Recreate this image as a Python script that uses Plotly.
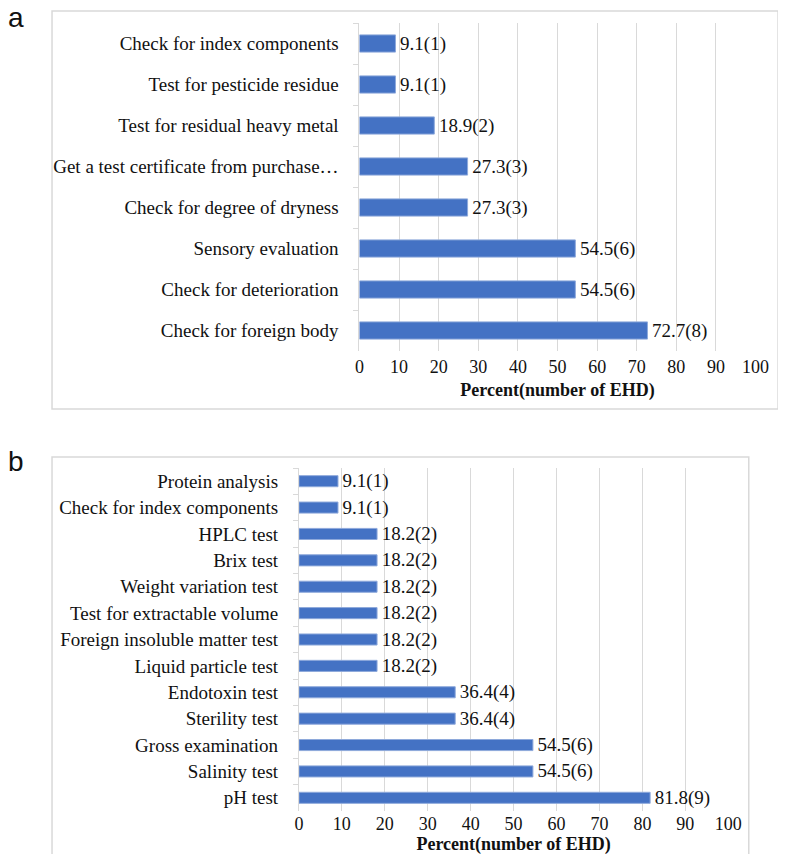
import plotly.graph_objects as go

W, H = 786, 854

# Panel a data (top to bottom)
cats_a = ["Check for index components", "Test for pesticide residue",
          "Test for residual heavy metal", "Get a test certificate from purchase…",
          "Check for degree of dryness", "Sensory evaluation",
          "Check for deterioration", "Check for foreign body"]
pct_a = [9.1, 9.1, 18.9, 27.3, 27.3, 54.5, 54.5, 72.7]
num_a = [1, 1, 2, 3, 3, 6, 6, 8]

# Panel b data (top to bottom)
cats_b = ["Protein analysis", "Check for index components", "HPLC test", "Brix test",
          "Weight variation test", "Test for extractable volume",
          "Foreign insoluble matter test", "Liquid particle test", "Endotoxin test",
          "Sterility test", "Gross examination", "Salinity test", "pH test"]
pct_b = [9.1, 9.1, 18.2, 18.2, 18.2, 18.2, 18.2, 18.2, 36.4, 36.4, 54.5, 54.5, 81.8]
num_b = [1, 1, 2, 2, 2, 2, 2, 2, 4, 4, 6, 6, 9]

x_ticks = [0, 10, 20, 30, 40, 50, 60, 70, 80, 90, 100]
x_title = "Percent(number of EHD)"

BAR = "#4472C4"
GRID = "#D9D9D9"
FONT = "Liberation Serif"

def px(x):
    return x / W

def py(y):
    return 1 - y / H

fig = go.Figure()
for cats, pct, num, xa, ya in [(cats_a, pct_a, num_a, "x", "y"),
                               (cats_b, pct_b, num_b, "x2", "y2")]:
    fig.add_trace(go.Bar(
        y=cats, x=pct, orientation="h", xaxis=xa, yaxis=ya,
        marker=dict(color=BAR, line=dict(color="#8EA9DB", width=1)),
        width=0.42,
        text=[f"\u200a{p}({n})" for p, n in zip(pct, num)],
        textposition="outside", cliponaxis=False, constraintext="none",
        textfont=dict(family=FONT, size=19, color="#111"),
    ))

def xax(domain, anchor, standoff, tstandoff):
    return dict(domain=domain, anchor=anchor, range=[0, 100], tickvals=x_ticks,
                showgrid=True, gridcolor=GRID, gridwidth=1, zeroline=False,
                showline=False, ticks="", ticklabelstandoff=standoff,
                tickfont=dict(family=FONT, size=18, color="#111"),
                title=dict(text=f"<b>{x_title}</b>", standoff=tstandoff,
                           font=dict(family=FONT, size=18, color="#111")),
                fixedrange=True)

def yax(domain, anchor):
    return dict(domain=domain, anchor=anchor, type="category", autorange="reversed",
                showline=True, linecolor=GRID, linewidth=1, showgrid=False,
                ticks="outside", tickson="boundaries", ticklen=5, tickcolor=GRID,
                ticklabelstandoff=16,
                tickfont=dict(family=FONT, size=19, color="#111"))

fig.update_layout(
    width=W, height=H, margin=dict(l=0, r=0, t=0, b=0),
    paper_bgcolor="white", plot_bgcolor="white", showlegend=False,
    xaxis=xax([px(355), px(761)], "y", 3, 7),
    yaxis=yax([py(343), py(15)], "x"),
    xaxis2=xax([px(293), px(733)], "y2", 0, 2),
    yaxis2=yax([py(803), py(460)], "x2"),
    shapes=[
        dict(type="rect", xref="paper", yref="paper", x0=px(40), x1=px(784),
             y0=py(401), y1=py(3), line=dict(color=GRID, width=1.5)),
        dict(type="rect", xref="paper", yref="paper", x0=px(40), x1=px(754),
             y0=py(851), y1=py(449), line=dict(color=GRID, width=1.5)),
    ],
    annotations=[
        dict(text="a", xref="paper", yref="paper", x=0, y=py(0), xanchor="left",
             yanchor="top", showarrow=False, xshift=-7, yshift=8,
             font=dict(family="Liberation Sans", size=28, color="#111")),
        dict(text="b", xref="paper", yref="paper", x=0, y=py(446), xanchor="left",
             yanchor="top", showarrow=False, xshift=-7, yshift=10,
             font=dict(family="Liberation Sans", size=28, color="#111")),
    ],
)

fig.write_html("out.html")
